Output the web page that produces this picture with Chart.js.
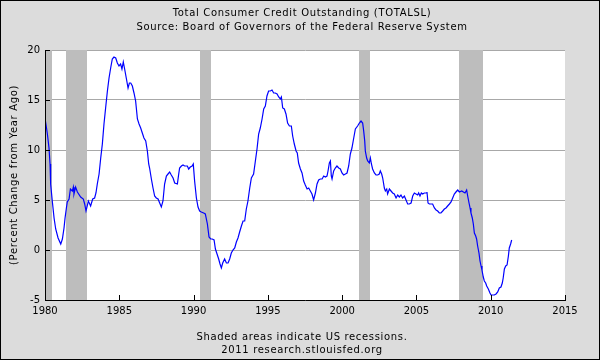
<!DOCTYPE html>
<html>
<head>
<meta charset="utf-8">
<script src="https://cdn.jsdelivr.net/npm/chart.js@4"></script>
<style>
  html, body { margin: 0; padding: 0; background: #dcdcdc; }
  canvas { display: block; }
</style>
</head>
<body>
<canvas id="chart" width="600" height="360"></canvas>
<script>
const obsDate = [
  1980.00, 1980.16, 1980.27, 1980.34, 1980.38, 1980.49, 1980.61, 1980.72, 1980.88, 1981.06,
  1981.17, 1981.28, 1981.35, 1981.44, 1981.50, 1981.62, 1981.71, 1981.84, 1981.91, 1981.95,
  1982.06, 1982.18, 1982.40, 1982.58, 1982.67, 1982.76, 1982.92, 1983.07, 1983.21, 1983.34,
  1983.43, 1983.52, 1983.64, 1983.75, 1983.86, 1983.97, 1984.08, 1984.20, 1984.31, 1984.42,
  1984.53, 1984.64, 1984.76, 1984.87, 1984.98, 1985.09, 1985.18, 1985.27, 1985.36, 1985.47,
  1985.59, 1985.68, 1985.77, 1985.88, 1985.99, 1986.10, 1986.22, 1986.33, 1986.44, 1986.55,
  1986.66, 1986.78, 1986.89, 1986.98, 1987.04, 1987.16, 1987.27, 1987.38, 1987.49, 1987.61,
  1987.72, 1987.83, 1987.94, 1988.05, 1988.17, 1988.28, 1988.39, 1988.50, 1988.62, 1988.73,
  1988.91, 1989.00, 1989.06, 1989.18, 1989.29, 1989.40, 1989.58, 1989.67, 1989.78, 1989.90,
  1989.98, 1990.07, 1990.19, 1990.30, 1990.41, 1990.52, 1990.68, 1990.79, 1990.93, 1991.04,
  1991.15, 1991.26, 1991.38, 1991.47, 1991.58, 1991.69, 1991.78, 1991.87, 1991.96, 1992.09,
  1992.21, 1992.32, 1992.43, 1992.54, 1992.65, 1992.77, 1992.88, 1992.99, 1993.10, 1993.22,
  1993.33, 1993.44, 1993.55, 1993.66, 1993.78, 1993.89, 1994.04, 1994.16, 1994.27, 1994.38,
  1994.49, 1994.61, 1994.72, 1994.83, 1994.94, 1995.05, 1995.17, 1995.28, 1995.39, 1995.50,
  1995.62, 1995.73, 1995.84, 1995.91, 1996.00, 1996.11, 1996.22, 1996.33, 1996.45, 1996.58,
  1996.67, 1996.78, 1996.90, 1996.98, 1997.07, 1997.19, 1997.30, 1997.41, 1997.52, 1997.64,
  1997.75, 1997.86, 1997.97, 1998.08, 1998.20, 1998.31, 1998.42, 1998.53, 1998.65, 1998.76,
  1998.87, 1998.98, 1999.05, 1999.14, 1999.21, 1999.27, 1999.32, 1999.43, 1999.54, 1999.65,
  1999.77, 1999.88, 1999.99, 2000.10, 2000.22, 2000.33, 2000.44, 2000.55, 2000.66, 2000.78,
  2000.89, 2001.04, 2001.16, 2001.27, 2001.38, 2001.45, 2001.52, 2001.56, 2001.65, 2001.72,
  2001.83, 2001.90, 2001.97, 2002.05, 2002.17, 2002.28, 2002.39, 2002.50, 2002.57, 2002.66,
  2002.73, 2002.84, 2002.91, 2003.00, 2003.06, 2003.18, 2003.29, 2003.40, 2003.51, 2003.63,
  2003.74, 2003.85, 2003.96, 2004.07, 2004.19, 2004.30, 2004.41, 2004.52, 2004.64, 2004.75,
  2004.86, 2004.97, 2005.08, 2005.15, 2005.24, 2005.33, 2005.42, 2005.53, 2005.65, 2005.71,
  2005.78, 2005.87, 2005.98, 2006.09, 2006.21, 2006.32, 2006.43, 2006.54, 2006.65, 2006.77,
  2006.88, 2006.99, 2007.10, 2007.22, 2007.33, 2007.44, 2007.55, 2007.66, 2007.78, 2007.89,
  2008.05, 2008.16, 2008.27, 2008.38, 2008.45, 2008.54, 2008.61, 2008.67, 2008.76, 2008.83,
  2008.90, 2008.99, 2009.05, 2009.12, 2009.21, 2009.28, 2009.35, 2009.41, 2009.50, 2009.57,
  2009.66, 2009.73, 2009.84, 2009.95, 2010.02, 2010.13, 2010.24, 2010.36, 2010.47, 2010.58,
  2010.69, 2010.78, 2010.84, 2010.92, 2011.01, 2011.10, 2011.19, 2011.25, 2011.34, 2011.41
];
const pctChange = [
  13.2, 11.6, 10.2, 8.6, 6.6, 4.9, 3.2, 2.1, 1.2, 0.6,
  1.1, 2.2, 3.2, 4.2, 4.8, 5.1, 6.1, 5.9, 6.3, 5.6,
  6.3, 5.8, 5.3, 5.1, 4.6, 3.9, 4.9, 4.4, 5.1, 5.2,
  5.7, 6.6, 7.6, 9.2, 10.6, 12.6, 14.2, 15.9, 17.2, 18.2,
  19.1, 19.3, 19.2, 18.7, 18.4, 18.6, 18.1, 18.8, 18.1, 17.2,
  16.2, 16.7, 16.7, 16.4, 15.7, 14.9, 13.1, 12.6, 12.2, 11.7,
  11.2, 10.9, 9.9, 8.6, 8.2, 7.1, 6.2, 5.4, 5.2, 5.1,
  4.7, 4.3, 4.9, 6.6, 7.4, 7.6, 7.8, 7.5, 7.2, 6.7,
  6.6, 7.6, 8.2, 8.4, 8.5, 8.4, 8.4, 8.1, 8.3, 8.4,
  8.6, 6.9, 5.2, 4.3, 3.9, 3.8, 3.7, 3.6, 2.6, 1.3,
  1.1, 1.1, 1.0, 0.1, -0.4, -0.9, -1.4, -1.8, -1.3, -0.9,
  -1.3, -1.3, -0.9, -0.3, 0.0, 0.2, 0.8, 1.2, 1.8, 2.4,
  2.9, 2.9, 4.1, 4.9, 6.2, 7.2, 7.6, 8.9, 10.1, 11.6,
  12.2, 13.1, 14.1, 14.4, 15.4, 15.9, 15.9, 16.0, 15.7, 15.7,
  15.6, 15.3, 15.1, 15.3, 14.2, 14.1, 13.6, 12.7, 12.4, 12.4,
  11.4, 10.6, 9.9, 9.7, 8.7, 8.1, 7.7, 6.9, 6.5, 6.1,
  6.2, 5.9, 5.6, 5.0, 5.7, 6.6, 7.0, 7.1, 7.1, 7.4,
  7.3, 7.4, 7.9, 8.7, 8.9, 7.4, 7.1, 7.9, 8.2, 8.4,
  8.2, 8.1, 7.7, 7.5, 7.6, 7.7, 8.4, 9.6, 10.2, 11.2,
  12.1, 12.4, 12.7, 12.9, 12.7, 11.9, 10.9, 9.9, 9.2, 8.9,
  8.7, 9.2, 8.6, 8.1, 7.7, 7.5, 7.5, 7.6, 7.9, 7.6,
  7.2, 6.2, 5.9, 6.1, 5.6, 6.1, 5.9, 5.7, 5.6, 5.2,
  5.5, 5.3, 5.5, 5.2, 5.4, 5.0, 4.6, 4.6, 4.7, 5.4,
  5.7, 5.6, 5.5, 5.7, 5.4, 5.7, 5.6, 5.7, 5.7, 5.8,
  4.7, 4.6, 4.6, 4.6, 4.2, 4.0, 3.9, 3.7, 3.7, 3.9,
  4.1, 4.2, 4.4, 4.6, 4.8, 5.2, 5.6, 5.8, 6.0, 5.8,
  5.9, 5.8, 5.7, 6.0, 5.4, 4.7, 4.2, 3.7, 3.2, 2.6,
  1.7, 1.4, 1.1, 0.4, -0.3, -1.1, -1.6, -2.0, -2.7, -3.1,
  -3.3, -3.6, -3.9, -4.3, -4.5, -4.5, -4.5, -4.4, -4.2, -3.8,
  -3.7, -3.3, -2.8, -1.9, -1.6, -1.5, -0.6, 0.2, 0.6, 1.0
];

// US recessions (shaded)
const recStart = [1980.00, 1981.42, 1990.46, 2001.12, 2007.88];
const recEnd   = [1980.46, 1982.82, 1991.16, 2001.86, 2009.46];

const xTickYears = [1980, 1985, 1990, 1995, 2000, 2005, 2010, 2015];
const yTickValues = [-5, 0, 5, 10, 15, 20];

const titleLines = [
  "Total Consumer Credit Outstanding (TOTALSL)",
  "Source: Board of Governors of the Federal Reserve System"
];
const footLines = [
  "Shaded areas indicate US recessions.",
  "2011 research.stlouisfed.org"
];
const yAxisTitle = "(Percent Change from Year Ago)";

const FONT = '10px "DejaVu Sans"';

const fredFrame = {
  id: "fredFrame",
  beforeDraw(chart) {
    const { ctx, chartArea: a, width, height } = chart;
    ctx.save();
    ctx.fillStyle = "#dcdcdc";
    ctx.fillRect(0, 0, width, height);
    ctx.fillStyle = "#ffffff";
    ctx.fillRect(a.left, a.top, a.right - a.left, a.bottom - a.top);
    ctx.restore();
  },
  beforeDatasetsDraw(chart) {
    // recession bars go over the grid, under the line
    const { ctx, chartArea: a, scales: { x } } = chart;
    ctx.save();
    ctx.fillStyle = "#bdbdbd";
    recStart.forEach((s, i) => {
      const x0 = Math.round(x.getPixelForValue(s));
      const x1 = Math.round(x.getPixelForValue(recEnd[i]));
      ctx.fillRect(x0, a.top, x1 - x0, a.bottom - a.top);
    });
    ctx.restore();
  },
  afterDraw(chart) {
    const { ctx, chartArea: a, scales: { x, y }, width, height } = chart;
    ctx.save();

    // inward tick marks
    ctx.strokeStyle = "#000";
    ctx.lineWidth = 1;
    ctx.beginPath();
    xTickYears.forEach(v => {
      const px = Math.round(x.getPixelForValue(v)) + 0.5;
      ctx.moveTo(px, a.bottom);
      ctx.lineTo(px, a.bottom - 5);
    });
    yTickValues.forEach(v => {
      const py = Math.round(y.getPixelForValue(v)) + 0.5;
      ctx.moveTo(a.left, py);
      ctx.lineTo(a.left + 5, py);
    });
    ctx.stroke();

    // texts (the original renderer spaces letters a bit wider)
    ctx.fillStyle = "#000";
    ctx.font = FONT;
    ctx.letterSpacing = "0.66px";
    ctx.textAlign = "center";
    ctx.textBaseline = "middle";
    ctx.fillText(titleLines[0], 302, 13);
    ctx.fillText(titleLines[1], 302, 27);
    ctx.fillText(footLines[0], 302, 337);
    ctx.fillText(footLines[1], 302, 350);

    ctx.save();
    ctx.translate(14, (a.top + a.bottom) / 2);
    ctx.rotate(-Math.PI / 2);
    ctx.fillText(yAxisTitle, 0, 0);
    ctx.restore();

    // outer frame
    ctx.letterSpacing = "0px";
    ctx.strokeStyle = "#000";
    ctx.strokeRect(0.5, 0.5, width - 1, height - 1);
    ctx.restore();
  }
};

new Chart(document.getElementById("chart"), {
  type: "line",
  data: {
    datasets: [{
      data: obsDate.map((d, i) => ({ x: d, y: pctChange[i] })),
      borderColor: "#0000ff",
      borderWidth: 1.2,
      pointRadius: 0,
      tension: 0,
      fill: false
    }]
  },
  options: {
    responsive: false,
    animation: false,
    devicePixelRatio: 1,
    layout: { padding: { top: 50, right: 35, left: 0, bottom: 0 } },
    plugins: { legend: { display: false }, tooltip: { enabled: false } },
    scales: {
      x: {
        type: "linear",
        min: 1980,
        max: 2015,
        afterBuildTicks: s => { s.ticks = xTickYears.map(v => ({ value: v })); },
        afterFit: s => { s.height = 60; },
        grid: { display: false, drawTicks: false },
        border: { display: true, color: "#000", width: 1, z: 1 },
        ticks: {
          color: "#000",
          font: { family: "DejaVu Sans", size: 10 },
          padding: 5,
          maxRotation: 0,
          autoSkip: false,
          callback: v => String(v)
        }
      },
      y: {
        min: -5,
        max: 20,
        afterBuildTicks: s => { s.ticks = yTickValues.map(v => ({ value: v })); },
        afterFit: s => { s.width = 45; },
        grid: { color: "#a8a8a8", lineWidth: 1, drawTicks: false },
        border: { display: true, color: "#000", width: 1, z: 1 },
        ticks: {
          color: "#000",
          font: { family: "DejaVu Sans", size: 10 },
          padding: 5,
          callback: v => String(v)
        }
      }
    }
  },
  plugins: [fredFrame]
});
</script>
</body>
</html>
